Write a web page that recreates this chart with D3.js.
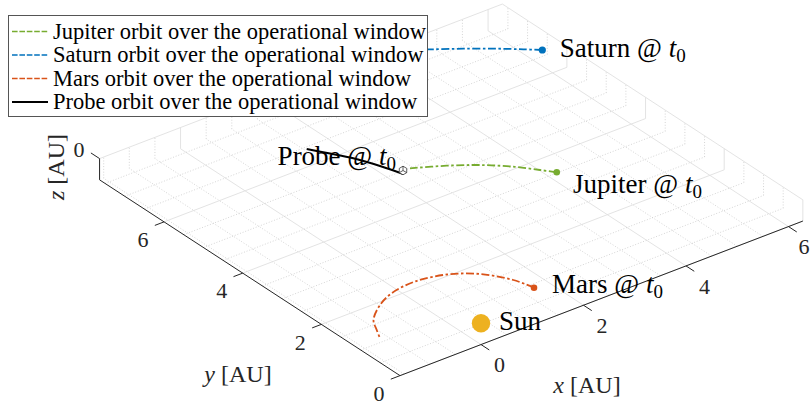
<!DOCTYPE html>
<html><head><meta charset="utf-8">
<script src="https://cdn.jsdelivr.net/npm/d3@7"></script>
<style>body{margin:0;background:#fff} svg{display:block}</style>
</head><body>
<svg id="chart" width="811" height="408"></svg>
<script>
// ---------------- data ----------------
const xTicks = [0, 2, 4, 6];
const yTicks = [0, 2, 4, 6];
const zTicks = [0];
const xLimits = [-1.58, 6.28];
const yLimits = [0, 7.64];
const zLimits = [-0.38, 0];

const jupiterX = [3.776, 3.614, 3.348, 2.971, 2.549, 2.049];
const jupiterY = [2.995, 3.209, 3.542, 3.897, 4.194, 4.476];
const saturnX  = [5.904, 5.684, 5.369, 4.958, 4.578, 4.400];
const saturnY  = [6.135, 6.331, 6.596, 6.911, 7.179, 7.295];
const marsX    = [1.322, 1.213, 0.917, 0.502, -0.023, -0.522, -0.896, -1.258, -1.407, -1.523];
const marsY    = [0.375, 0.759, 1.220, 1.519, 1.648, 1.583, 1.401, 1.094, 0.818, 0.583];
const probeX   = [1.860, 1.724, 1.541, 1.346, 1.144];
const probeY   = [4.399, 4.815, 5.256, 5.593, 5.923];
const probeStart = [1.922, 4.488];
const sunPos = [0, 0];

const legendLabels = [
  "Jupiter orbit over the operational window",
  "Saturn orbit over the operational window",
  "Mars orbit over the operational window",
  "Probe orbit over the operational window"
];
const colors = {jupiter: "#77AC30", saturn: "#0072BD", mars: "#D95319", probe: "#000000", sun: "#EDB120"};

// ---------------- projection ----------------
const az = -37.5 * Math.PI / 180, el = 30 * Math.PI / 180, S = 64.6;
const ca = Math.cos(az), sa = Math.sin(az), se = Math.sin(el), ce = Math.cos(el);
const origin = [481, 323.3];
const sx = d3.scaleLinear().domain([0, 1]).range([0, S]);
const sy = d3.scaleLinear().domain([0, 1]).range([0, S]);
const sz = d3.scaleLinear().domain([0, 1]).range([0, S]);
function P(x, y, z) {
  const X = sx(x), Y = sy(y), Z = sz(z);
  return [origin[0] + ca * X + sa * Y,
          origin[1] - (-sa * se * X + ca * se * Y + ce * Z)];
}

const svg = d3.select("#chart");
const FONT = "'Liberation Serif','Times New Roman',serif";
const [x0, x1] = xLimits, [y0, y1] = yLimits, [z0, z1] = zLimits;

// ---------------- grid ----------------
const minorVals = (lim, ticks) => d3.range(Math.ceil(lim[0] * 2), Math.floor(lim[1] * 2) + 1)
  .map(k => k / 2).filter(v => !ticks.includes(v));
const xMinor = minorVals(xLimits, xTicks), yMinor = minorVals(yLimits, yTicks);
const grid = svg.append("g").attr("fill", "none");
function seg(g, a, b, cls) {
  g.append("line").attr("x1", a[0]).attr("y1", a[1]).attr("x2", b[0]).attr("y2", b[1])
    .attr("stroke", cls === "major" ? "#e0e0e0" : "#cacaca")
    .attr("stroke-width", cls === "major" ? 0.9 : 0.8)
    .attr("stroke-dasharray", cls === "major" ? null : "1,1.8");
}
[[xMinor, "minor"], [xTicks, "major"]].forEach(([vals, cls]) => vals.forEach(x => {
  seg(grid, P(x, y0, z0), P(x, y1, z0), cls);       // floor
  seg(grid, P(x, y1, z0), P(x, y1, z1), cls);       // back wall y=ymax
}));
[[yMinor, "minor"], [yTicks, "major"]].forEach(([vals, cls]) => vals.forEach(y => {
  seg(grid, P(x0, y, z0), P(x1, y, z0), cls);       // floor
  seg(grid, P(x1, y, z0), P(x1, y, z1), cls);       // back wall x=xmax
}));
zTicks.forEach(z => {
  seg(grid, P(x0, y1, z), P(x1, y1, z), "major");
  seg(grid, P(x1, y0, z), P(x1, y1, z), "major");
});

// ---------------- axes ----------------
const ax = svg.append("g").attr("stroke", "#262626").attr("stroke-width", 1);
const L = (a, b) => ax.append("line").attr("x1", a[0]).attr("y1", a[1]).attr("x2", b[0]).attr("y2", b[1]);
L(P(x0, y0, z0), P(x1, y0, z0));
L(P(x0, y0, z0), P(x0, y1, z0));
L(P(x0, y1, z0), P(x0, y1, z1));
const tickFont = 22;
const tl = svg.append("g").attr("font-family", FONT).attr("font-size", tickFont)
  .attr("fill", "#262626").attr("text-anchor", "middle");
xTicks.forEach(x => {
  const a = P(x, y0, z0); L(a, P(x, y0 - 0.21, z0));
  tl.append("text").attr("x", Math.min(a[0] + 18.5, 804)).attr("y", a[1] + 20).attr("dy", "0.35em").text(x);
});
yTicks.forEach(y => {
  const a = P(x0, y, z0); L(a, P(x0 - 0.18, y, z0));
  tl.append("text").attr("x", a[0] - 21).attr("y", a[1] + 17.6).attr("dy", "0.35em").text(y);
});
zTicks.forEach(z => {
  const a = P(x0, y1, z); L(a, P(x0, y1 + 0.22, z));
  tl.append("text").attr("x", a[0] - 20.5).attr("y", a[1] - 9.5).attr("dy", "0.35em").text(z);
});
function axisLabel(x, y, v, rot) {
  const t = svg.append("text").attr("font-family", FONT).attr("font-size", 24).attr("fill", "#262626")
    .attr("text-anchor", "middle").attr("transform", `translate(${x},${y}) rotate(${rot})`);
  t.append("tspan").attr("font-style", "italic").text(v);
  t.append("tspan").text(" [AU]");
}
axisLabel(587, 393, "x", 0);
axisLabel(238, 381.5, "y", 0);
axisLabel(64, 167, "z", -90);

// ---------------- series ----------------
const line = d3.line().x(d => P(d[0], d[1], 0)[0]).y(d => P(d[0], d[1], 0)[1]).curve(d3.curveCatmullRom);
const zip = (a, b) => a.map((v, i) => [v, b[i]]);
const dashDot = "8,2.5,2.5,2.5";
svg.append("path").attr("d", line(zip(jupiterX, jupiterY))).attr("fill", "none")
  .attr("stroke", colors.jupiter).attr("stroke-width", 1.8).attr("stroke-dasharray", dashDot);
svg.append("path").attr("d", line(zip(saturnX, saturnY))).attr("fill", "none")
  .attr("stroke", colors.saturn).attr("stroke-width", 1.8).attr("stroke-dasharray", dashDot);
svg.append("path").attr("d", line(zip(marsX, marsY))).attr("fill", "none")
  .attr("stroke", colors.mars).attr("stroke-width", 1.8).attr("stroke-dasharray", dashDot);

// markers
function dot(pos, r, c) {
  const p = P(pos[0], pos[1], 0);
  svg.append("circle").attr("cx", p[0]).attr("cy", p[1]).attr("r", r).attr("fill", c);
  return p;
}
const pSat = dot([saturnX[0], saturnY[0]], 3.6, colors.saturn);
const pJup = dot([jupiterX[0], jupiterY[0]], 3.3, colors.jupiter);
const pMars = dot([marsX[0], marsY[0]], 3.3, colors.mars);
const pSun = dot(sunPos, 9.2, colors.sun);

// labels
const lab = svg.append("g").attr("font-family", FONT).attr("font-size", 27).attr("fill", "#000");
function label(p, dx, dy, name, anchor) {
  const t = lab.append("text").attr("x", p[0] + dx).attr("y", p[1] + dy).attr("text-anchor", anchor || "start");
  t.append("tspan").text(name);
  if (name !== "Sun") {
    t.append("tspan").text(" @ ");
    t.append("tspan").attr("font-style", "italic").text("t");
    t.append("tspan").attr("font-size", 19).attr("dy", 5).text("0");
  }
}
label(pSat, 17.5, 7, "Saturn");
label(pJup, 16.3, 21, "Jupiter");
label(pMars, 18, 5.6, "Mars");
label(pSun, 18, 6.7, "Sun");
const pProbe = P(probeStart[0], probeStart[1], 0);
label(pProbe, -7, -5.5, "Probe", "end");

// probe orbit
svg.append("path").attr("d", line(zip(probeX, probeY))).attr("fill", "none")
  .attr("stroke", colors.probe).attr("stroke-width", 2);
// probe marker (small cube)
(function () {
  const [cx, cy] = pProbe, r = 4.3;
  const hex = d3.range(6).map(i => {
    const a = Math.PI / 6 + i * Math.PI / 3;
    return [cx + r * Math.cos(a), cy + r * Math.sin(a)];
  });
  const g = svg.append("g").attr("fill", "#fff").attr("stroke", "#333").attr("stroke-width", 0.8);
  g.append("polygon").attr("points", hex.map(p => p.join(",")).join(" "));
  [hex[0], hex[2], hex[4]].forEach(p => g.append("line").attr("x1", cx).attr("y1", cy).attr("x2", p[0]).attr("y2", p[1]));
})();

// ---------------- legend ----------------
const leg = svg.append("g");
leg.append("rect").attr("x", 8.5).attr("y", 15.5).attr("width", 419).attr("height", 101)
  .attr("fill", "#fff").attr("stroke", "#555").attr("stroke-width", 1);
const legColors = [colors.jupiter, colors.saturn, colors.mars, colors.probe];
legendLabels.forEach((txt, i) => {
  const cy = 31.5 + i * 23.5;
  leg.append("line").attr("x1", 12).attr("x2", 48).attr("y1", cy).attr("y2", cy)
    .attr("stroke", legColors[i]).attr("stroke-width", i === 3 ? 2 : 1.6)
    .attr("stroke-dasharray", i === 3 ? null : "5.6,1.8");
  leg.append("text").attr("x", 53).attr("y", cy + 7).attr("font-family", FONT)
    .attr("font-size", 22.5).attr("fill", "#000").text(txt);
});
</script>
</body></html>
